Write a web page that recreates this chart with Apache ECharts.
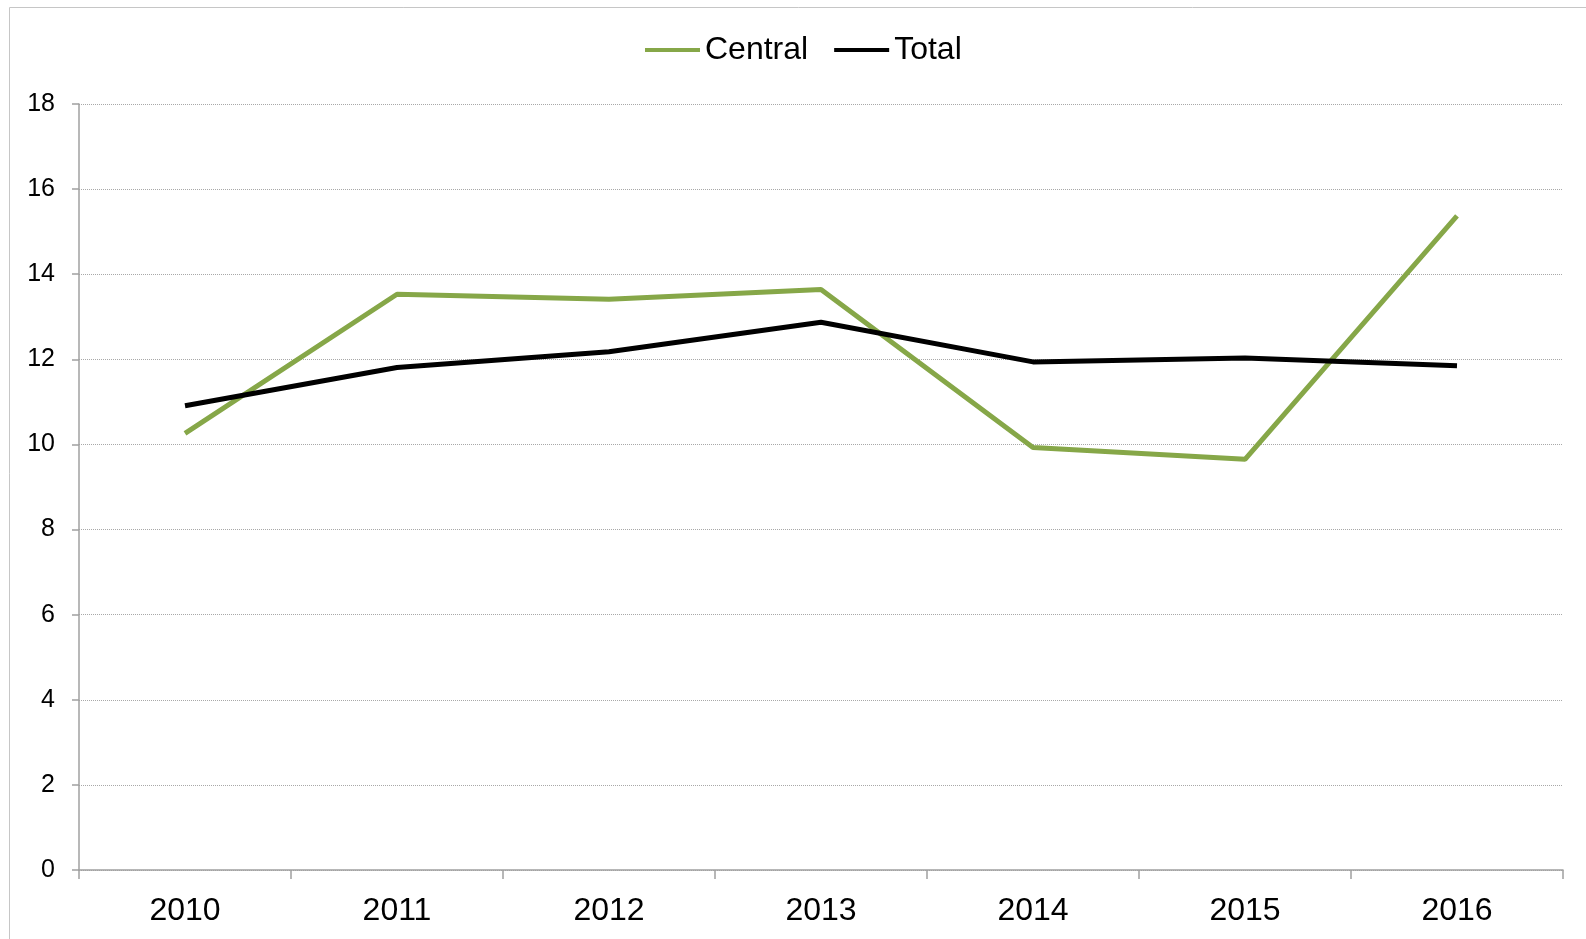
<!DOCTYPE html>
<html>
<head>
<meta charset="utf-8">
<script src="https://cdn.jsdelivr.net/npm/echarts@6/dist/echarts.min.js"></script>
<style>
  html, body { margin: 0; padding: 0; background: #fff; }
  #chart { width: 1586px; height: 939px; }
</style>
</head>
<body>
<div id="chart"></div>
<script>
const years = ['2010', '2011', '2012', '2013', '2014', '2015', '2016']
const central = [10.26, 13.53, 13.41, 13.64, 9.93, 9.65, 15.37]
const total = [10.91, 11.81, 12.18, 12.87, 11.94, 12.03, 11.85]
const yTicks = [0, 2, 4, 6, 8, 10, 12, 14, 16, 18]

const myChart = echarts.init(document.getElementById('chart'))
const font = 'Arial, "Liberation Sans", sans-serif'
let option = {
  animation: false,
  graphic: [
    {
      type: 'rect',
      shape: { x: 9.5, y: 7.5, width: 1700, height: 1000 },
      style: { fill: 'none', stroke: '#c6c6c6', lineWidth: 1 }
    }
  ],
  legend: {
    top: 29,
    left: 640,
    icon: 'rect',
    itemWidth: 55,
    itemHeight: 4,
    itemGap: 26,
    textStyle: { fontFamily: font, fontSize: 32, color: '#000', padding: [0, 0, 0, 0] },
    data: ['Central', 'Total']
  },
  grid: { left: 79, right: 23, top: 104, bottom: 69, containLabel: false },
  xAxis: {
    type: 'category',
    data: years,
    boundaryGap: true,
    axisLine: { lineStyle: { color: '#a0a0a0', width: 1.5 } },
    axisTick: { show: true, length: 9, lineStyle: { color: '#a0a0a0', width: 1.5 } },
    axisLabel: { fontFamily: font, fontSize: 32, color: '#000', margin: 25 }
  },
  yAxis: {
    type: 'value',
    min: yTicks[0],
    max: yTicks[yTicks.length - 1],
    interval: 2,
    axisLine: { show: true, lineStyle: { color: '#a0a0a0', width: 1.5 } },
    axisTick: { show: true, length: 7, lineStyle: { color: '#a0a0a0', width: 1.5 } },
    axisLabel: { fontFamily: font, fontSize: 25, color: '#000', margin: 24 },
    splitLine: { show: true, lineStyle: { color: '#a8a8a8', type: 'dotted', width: 1 } }
  },
  series: [
    {
      name: 'Central',
      type: 'line',
      data: central,
      symbol: 'none',
      lineStyle: { color: '#86a748', width: 5 },
      itemStyle: { color: '#86a748' }
    },
    {
      name: 'Total',
      type: 'line',
      data: total,
      symbol: 'none',
      lineStyle: { color: '#000', width: 5 },
      itemStyle: { color: '#000' }
    }
  ]
}
myChart.setOption(option)
</script>
</body>
</html>
